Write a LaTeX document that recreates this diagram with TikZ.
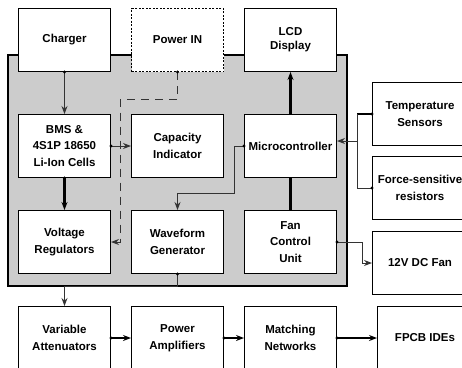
\documentclass[tikz,border=0pt]{standalone}
\usepackage{fontspec}
\setsansfont{Liberation Sans}
\usetikzlibrary{arrows.meta,positioning}
\definecolor{PanelGray}{HTML}{CCCCCC}
\definecolor{WireGray}{HTML}{333333}

\begin{document}
\begin{tikzpicture}[x=1pt,y=-1pt,node distance=42pt and 20pt]
    \tikzset{blk/.style={draw,fill=white,line width=1pt,minimum width=92pt,minimum height=63pt,
      align=center,inner sep=1pt,font=\sffamily\bfseries\fontsize{11.5}{16.5}\selectfont},
      rblk/.style={blk,minimum width=95pt},
      wire/.style={draw=WireGray,line width=1pt},
      fat/.style={draw=black,line width=2.2pt},
      tip/.style={-{Stealth[length=8pt,width=6pt]}}}
    \useasboundingbox (0,0) rectangle (462,367);
    % system panel
    \fill[PanelGray] (8,55) rectangle (347,286);
    \draw[line width=1.2pt] (8,286) -- (8,55) -- (347,55) -- (347,286) -- cycle;
    % blocks
    \node[blk,anchor=north west] (chg) at (18,8) {Charger};
    \node[blk,dash pattern=on 2pt off 1.5pt,right=of chg] (pwr) {Power IN};
    \node[blk,right=of pwr] (lcd) {LCD\\[-2.5pt]Display};
    \node[blk,below=of chg] (bms) {BMS \&\\4S1P 18650\\Li-Ion Cells};
    \node[blk,right=of bms] (cap) {Capacity\\Indicator};
    \node[blk,right=of cap] (mcu) {Microcontroller};
    \node[blk,below=32pt of bms] (vreg) {Voltage\\Regulators};
    \node[blk,right=of vreg] (wave) {Waveform\\Generator};
    \node[blk,right=of wave] (fan) {Fan\\Control\\Unit};
    \node[blk,below=32pt of vreg] (vatt) {Variable\\Attenuators};
    \node[blk,right=of vatt] (pamp) {Power\\Amplifiers};
    \node[blk,right=of pamp] (mnet) {Matching\\Networks};
    \node[rblk,right=40pt of mnet] (fpcb) {FPCB IDEs};
    \node[rblk,anchor=north west] (temp) at (372,82) {Temperature\\Sensors};
    \node[rblk,below=10pt of temp] (fsr) {Force-sensitive\\resistors};
    \node[rblk,below=11pt of fsr] (dcfan) {12V DC Fan};
    % connectors
    \draw[wire,tip] (chg.south) -- (bms.north);
    \draw[wire,tip,dash pattern=on 8pt off 6pt] (pwr.south) -- ++(0,27) -| ([xshift=9pt]vreg.east) -- (vreg.east);
    \draw[wire,tip] (bms.east) -- (cap.west);
    \draw[fat,tip] (bms.south) -- (vreg.north);
    \draw[fat,tip] (mcu.north) -- (lcd.south);
    \draw[wire,tip] (mcu.west) -- ++(-10,0) -- ++(0,47) -| (wave.north);
    \draw[fat] (mcu.south) -- (fan.north);
    \draw[fat] (temp.west) -- ++(-15,0) coordinate (bus);
    \draw[wire] (bus) |- (fsr.west);
    \coordinate (mcuin) at ([yshift=5pt]mcu.east);
    \draw[wire,tip] (mcuin -| bus) -- (mcuin);
    \draw[wire,tip] (fan.east) -- ++(25,0) |- (dcfan.west);
    \draw[wire,tip] (wave.south) -- ++(0,12) -| (vatt.north);
    \draw[fat,tip] (vatt.east) -- (pamp.west);
    \draw[fat,tip] (pamp.east) -- (mnet.west);
    \draw[fat,tip] (mnet.east) -- (fpcb.west);
    % source dots
    \foreach \p in {chg.south,pwr.south,bms.east,bms.south,mcu.west,temp.west,fsr.west,fan.east,wave.south,vatt.east,pamp.east,mnet.east}
      \fill (\p) circle (1.6pt);
  \end{tikzpicture}
\end{document}
